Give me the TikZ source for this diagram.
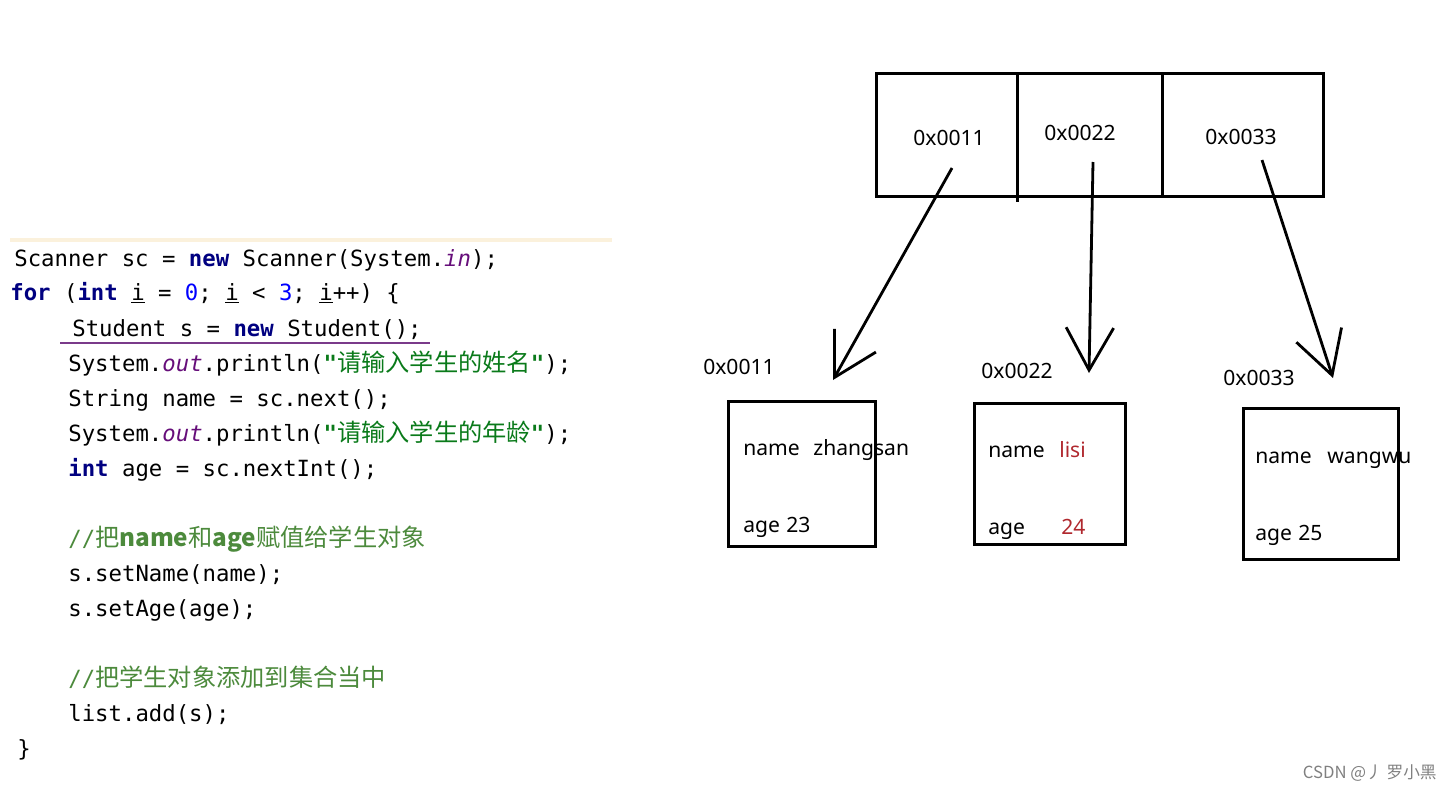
\documentclass[tikz,border=0pt]{standalone}
\usepackage{fontspec}
\setmainfont{Noto Sans}
\newfontfamily\codefont{DejaVu Sans Mono}
\newfontfamily\cjk{Noto Sans CJK SC}
\usetikzlibrary{arrows.meta}

\definecolor{kwblue}{HTML}{000080}
\definecolor{fieldpurple}{HTML}{660E7A}
\definecolor{numblue}{HTML}{0000FF}
\definecolor{strgreen}{HTML}{0A7A1A}
\definecolor{cmtgreen}{HTML}{4C8A3C}
\definecolor{valred}{HTML}{B0282E}
\definecolor{cream}{HTML}{FBF1DC}
\definecolor{markpurple}{HTML}{7A3A8A}

\newdimen\px \px=0.02cm
\newcommand{\kw}[1]{\textcolor{kwblue}{\bfseries #1}}
\newcommand{\fld}[1]{\textcolor{fieldpurple}{\itshape #1}}
\newcommand{\zh}[1]{{\cjk\fontsize{13.8}{15}\selectfont #1}}
\newcommand{\str}[1]{\textcolor{strgreen}{\textbf{"}\zh{#1}\textbf{"}}}

\begin{document}
\begin{tikzpicture}[x=0.02cm,y=-0.02cm,
  code/.style={anchor=base west,inner sep=0,font=\codefont\fontsize{12.7}{15}\selectfont},
  addr/.style={inner sep=0,font=\fontsize{12}{14}\selectfont},
  field/.style={anchor=base west,inner sep=0,font=\fontsize{12}{14}\selectfont},
  obj/.style={draw,line width=3\px,anchor=north west,inner sep=0},
  ptr/.style={line width=2.8\px,-{Straight Barb[length=0.85cm,width=0.95cm]}}]
\useasboundingbox (0,0) rectangle (1453,791);

% Source code on the left
\draw[cream,line width=4\px] (10,240) -- (612,240);
\node[code] (l1) at (14,266) {Scanner sc = \kw{new} Scanner(System.\fld{in});};
\node[code] (l2) at (10,300) {\kw{for} (\kw{int} \underline{i} = \textcolor{numblue}{0}; \underline{i} < \textcolor{numblue}{3}; \underline{i}++) \{};
\node[code] (l3) at (72,336) {Student s = \kw{new} Student();};
\node[code] (l4) at (68,371) {System.\fld{out}.println(\str{请输入学生的姓名});};
\node[code] (l5) at (68,406) {String name = sc.next();};
\node[code] (l6) at (68,441) {System.\fld{out}.println(\str{请输入学生的年龄});};
\node[code] (l7) at (68,476) {\kw{int} age = sc.nextInt();};
\node[code] (l9) at (68,546) {\textcolor{cmtgreen}{//\zh{把\textbf{name}和\textbf{age}赋值给学生对象}}};
\node[code] (l10) at (68,581) {s.setName(name);};
\node[code] (l11) at (68,616) {s.setAge(age);};
\node[code] (l13) at (68,686) {\textcolor{cmtgreen}{//\zh{把学生对象添加到集合当中}}};
\node[code] (l14) at (68,721) {list.add(s);};
\node[code] (l15) at (17,756) {\}};
\draw[markpurple,line width=2.5\px] (60,343) -- (430,343);

% The list of addresses
\node[obj,minimum width=447\px,minimum height=123\px] (list) at (875,72) {};
\draw[line width=3\px] (1017,72) -- (1017,202);
\draw[line width=3\px] (1162,72) -- (1162,195);
\node[addr] (a1) at (949,138) {0x0011};
\node[addr] (a2) at (1080,133) {0x0022};
\node[addr] (a3) at (1241,137) {0x0033};

% The student objects
\node[obj,minimum width=147\px,minimum height=145\px] (o1) at (727,400) {};
\node[obj,minimum width=151\px,minimum height=141\px] (o2) at (973,402) {};
\node[obj,minimum width=155\px,minimum height=151\px] (o3) at (1242,407) {};
\node[addr] (b1) at (739,367) {0x0011};
\node[addr] (b2) at (1017,371) {0x0022};
\node[addr] (b3) at (1259,378) {0x0033};

\node[field] (n1) at (743,455) {name};
\node[field] (v1) at (813,455) {zhangsan};
\node[field] (g1) at (743,532) {age};
\node[field] (w1) at (786,532) {23};
\node[field] (n2) at (988,457) {name};
\node[field,valred] (v2) at (1059,457) {lisi};
\node[field] (g2) at (988,534) {age};
\node[field,valred] (w2) at (1061,534) {24};
\node[field] (n3) at (1255,463) {name};
\node[field] (v3) at (1327,463) {wangwu};
\node[field] (g3) at (1255,540) {age};
\node[field] (w3) at (1298,540) {25};

% Pointers from the list to the objects
\coordinate (s1) at (952,168);
\coordinate (s2) at (1093,162);
\coordinate (s3) at (1262,160);
\coordinate (e1) at (833,380);
\coordinate (e2) at (1089,373);
\coordinate (e3) at (1333,378);
\draw[ptr] (s1) -- (e1);
\draw[ptr] (s2) -- (e2);
\draw[ptr] (s3) -- (e3);

\node[anchor=east,inner sep=0,gray,font=\cjk\fontsize{9.5}{11}\selectfont] (mark) at (1437,773) {CSDN @丿 罗小黑};
\end{tikzpicture}
\end{document}
